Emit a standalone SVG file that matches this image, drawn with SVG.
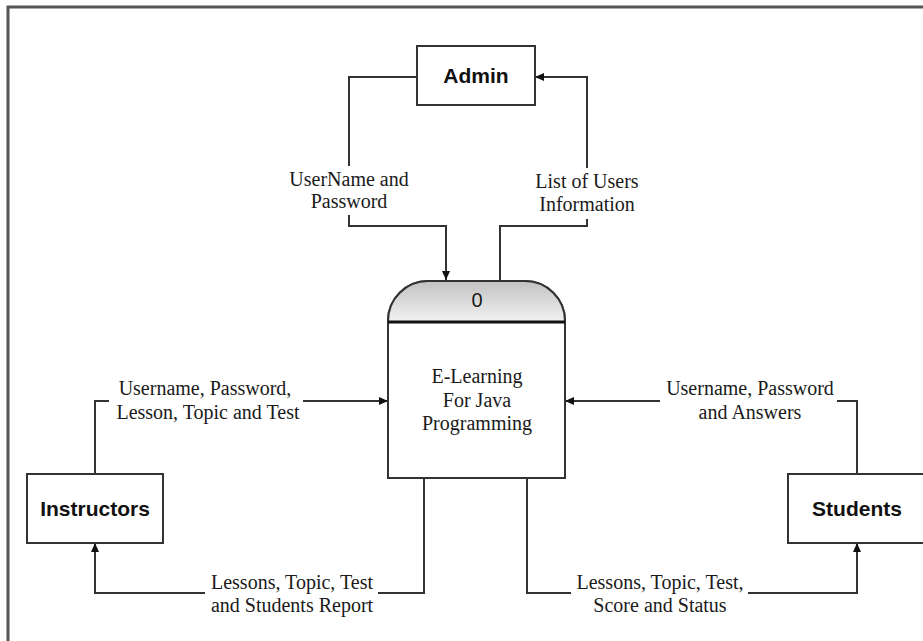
<svg xmlns="http://www.w3.org/2000/svg" width="923" height="641" viewBox="0 0 923 641">
<style>
.box{fill:#fff;stroke:#333;stroke-width:2}
.ent{font-family:"Liberation Sans",Arial,sans-serif;font-weight:bold;font-size:21px;fill:#111;text-anchor:middle}
.lbl{font-family:"Liberation Serif","Times New Roman",serif;font-size:20px;fill:#1a1a1a;text-anchor:middle}
.con{fill:none;stroke:#333;stroke-width:2;marker-end:url(#arr)}
</style>
<defs>
<marker id="arr" markerUnits="userSpaceOnUse" markerWidth="9" markerHeight="8" refX="9" refY="4" orient="auto">
<path d="M0,0 L9,4 L0,8 Z" fill="#111"/>
</marker>
<linearGradient id="hdr" x1="0" y1="0" x2="0" y2="1">
<stop offset="0" stop-color="#c2c2c2"/>
<stop offset="1" stop-color="#f2f2f2"/>
</linearGradient>
</defs>
<rect width="923" height="641" fill="#fff"/>
<rect x="8" y="7" width="1000" height="1000" fill="none" stroke="#555" stroke-width="3"/>

<g id="connectors">
<path class="con" d="M417,77 H349 V166 M349,215 V226 H446 V280"/>
<path class="con" d="M500,281 V226 H587 V219 M587,168 V77 H535"/>
<path class="con" d="M95,474 V401 H109 M303,401 H388"/>
<path class="con" d="M424,478 V593 H378 M205,593 H95 V543"/>
<path class="con" d="M857,474 V401 H837 M660,401 H565"/>
<path class="con" d="M527,478 V593 H571 M748,593 H857 V543"/>
<g class="lbl">
<text x="349" y="186">UserName and</text>
<text x="349" y="208">Password</text>
<text x="587" y="188">List of Users</text>
<text x="587" y="211">Information</text>
<text x="205" y="395">Username, Password,</text>
<text x="208" y="419">Lesson, Topic and Test</text>
<text x="292" y="589">Lessons, Topic, Test</text>
<text x="292" y="612">and Students Report</text>
<text x="750" y="395">Username, Password</text>
<text x="750" y="419">and Answers</text>
<text x="660" y="589">Lessons, Topic, Test,</text>
<text x="660" y="612">Score and Status</text>
</g>
</g>

<g id="admin">
<rect class="box" x="417" y="46" width="118" height="59"/>
<text class="ent" x="476" y="83">Admin</text>
</g>

<g id="process0">
<path d="M388,478 V321 A40,40 0 0 1 428,281 H525 A40,40 0 0 1 565,321 V478 Z" fill="#fff" stroke="#333" stroke-width="2"/>
<path d="M388,322 V321 A40,40 0 0 1 428,281 H525 A40,40 0 0 1 565,321 V322 Z" fill="url(#hdr)" stroke="#333" stroke-width="2"/>
<line x1="388" y1="322" x2="565" y2="322" stroke="#111" stroke-width="3"/>
<text x="477" y="307" font-family="Liberation Sans,Arial,sans-serif" font-size="20" fill="#1a1a1a" text-anchor="middle">0</text>
<g class="lbl">
<text x="477" y="383">E-Learning</text>
<text x="477" y="407">For Java</text>
<text x="477" y="430">Programming</text>
</g>
</g>

<g id="instructors">
<rect class="box" x="27" y="474" width="136" height="69"/>
<text class="ent" x="95" y="516">Instructors</text>
</g>

<g id="students">
<rect class="box" x="788" y="474" width="140" height="69"/>
<text class="ent" x="857" y="516">Students</text>
</g>
</svg>
